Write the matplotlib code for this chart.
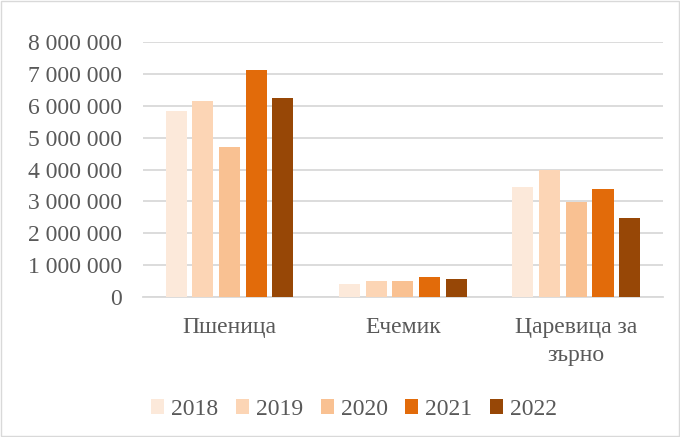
import matplotlib.pyplot as plt
import numpy as np
from matplotlib.ticker import FuncFormatter

# data
crops = ['Пшеница', 'Ечемик', 'Царевица за\nзърно']
years = ['2018', '2019', '2020', '2021', '2022']
y2018 = [5840000, 400000, 3450000]
y2019 = [6150000, 510000, 3980000]
y2020 = [4710000, 510000, 2970000]
y2021 = [7120000, 640000, 3380000]
y2022 = [6230000, 560000, 2490000]
colors = ['#FCE9DA', '#FCD5B5', '#F9C192', '#E26B0A', '#974706']

plt.rcParams['font.family'] = ['Liberation Serif', 'DejaVu Serif']
TXT = '#595959'
FS = 17

fig = plt.figure(figsize=(6.8, 4.37), dpi=100)
ax = fig.add_axes([0.21, 0.32, 0.765, 0.584])

series = [y2018, y2019, y2020, y2021, y2022]
x = np.arange(len(crops))
step = 0.154
w = 0.122
for i, vals in enumerate(series):
    ax.bar(x + (i - 2) * step, vals, width=w, color=colors[i], label=years[i], zorder=3)

ax.set_xlim(-0.5, 2.5)
ax.set_ylim(0, 8000000)
ax.set_yticks(np.arange(0, 8000001, 1000000))
ax.yaxis.set_major_formatter(FuncFormatter(lambda v, p: f'{int(v):,}'.replace(',', ' ')))
ax.set_xticks(x)
ax.set_xticklabels(crops, linespacing=1.45)
ax.grid(axis='y', color='#D9D9D9', linewidth=1.3, zorder=0)
for s in ['top', 'right', 'left']:
    ax.spines[s].set_visible(False)
ax.spines['bottom'].set_color('#D9D9D9')
ax.spines['bottom'].set_linewidth(1.3)
ax.tick_params(axis='both', length=0, labelsize=FS, colors=TXT)
ax.tick_params(axis='y', pad=15)
ax.tick_params(axis='x', pad=14)

leg = ax.legend(loc='center', bbox_to_anchor=(0.406, -0.44), ncol=5, frameon=False,
                fontsize=FS, handlelength=0.55, handleheight=0.55, handletextpad=0.3,
                columnspacing=0.75)
for t in leg.get_texts():
    t.set_color(TXT)

fig.patches.append(plt.Rectangle((0.002, 0.002), 0.996, 0.996, transform=fig.transFigure,
                                 fill=False, edgecolor='#D9D9D9', linewidth=1))

fig.savefig('out.png', dpi=100)
